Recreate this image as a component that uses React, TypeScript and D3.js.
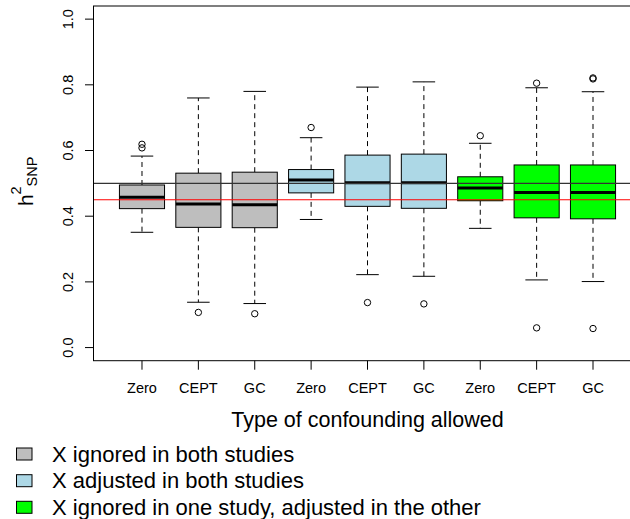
import React from "react";
import * as d3 from "d3";

const categories = ["Zero", "CEPT", "GC", "Zero", "CEPT", "GC", "Zero", "CEPT", "GC"];
const groupOfBox = [0, 0, 0, 1, 1, 1, 2, 2, 2];
const groupLabels = [
  "X ignored in both studies",
  "X adjusted in both studies",
  "X ignored in one study, adjusted in the other",
];
const groupColors = ["#BEBEBE", "#ADD8E6", "#00FF00"];

const lowerWhisker = [0.351, 0.138, 0.134, 0.39, 0.222, 0.217, 0.363, 0.206, 0.201];
const q1 = [0.423, 0.366, 0.365, 0.471, 0.43, 0.424, 0.447, 0.395, 0.392];
const median = [0.458, 0.437, 0.435, 0.51, 0.502, 0.502, 0.486, 0.472, 0.472];
const q3 = [0.495, 0.531, 0.534, 0.542, 0.586, 0.589, 0.52, 0.556, 0.556];
const upperWhisker = [0.583, 0.76, 0.78, 0.639, 0.793, 0.809, 0.622, 0.791, 0.779];
const outliers = [
  [0.608, 0.619],
  [0.107],
  [0.103],
  [0.67],
  [0.137],
  [0.133],
  [0.645],
  [0.805, 0.06],
  [0.818, 0.821, 0.058],
];

const yTicks = [0, 0.2, 0.4, 0.6, 0.8, 1.0];
const refLines = [
  { value: 0.5, color: "#333333" },
  { value: 0.45, color: "#FF0000" },
];

const xTitle = "Type of confounding allowed";
const FONT = "'Liberation Sans', Arial, Helvetica, sans-serif";

export default function App() {
  const W = 630;
  const H = 519;
  const x = d3.scaleLinear().domain([0.14, 9.86]).range([93.5, 641.5]);
  const y = d3.scaleLinear().domain([-0.04, 1.04]).range([360.7, 6]);
  const left = x.range()[0];
  const right = x.range()[1];
  const top = y.range()[1];
  const bottom = y.range()[0];
  const fmt = d3.format(".1f");
  const halfW = x(1.4) - x(1);
  const staple = halfW / 2;

  const legendRows = [454, 480.7, 507.3];

  return (
    <svg
      width={W}
      height={H}
      style={{ position: "absolute", left: 0, top: 0, background: "#fff" }}
      fontFamily={FONT}
    >
      <defs>
        <clipPath id="plotclip">
          <rect x={left} y={top} width={right - left} height={bottom - top} />
        </clipPath>
      </defs>
      <rect x={0} y={0} width={W} height={H} fill="#fff" />

      {/* boxes */}
      {categories.map((c, i) => {
        const cx = x(i + 1);
        const color = groupColors[groupOfBox[i]];
        return (
          <g key={"b" + i}>
            <line x1={cx} x2={cx} y1={y(q3[i])} y2={y(upperWhisker[i])} stroke="#000" strokeDasharray="5,4" />
            <line x1={cx} x2={cx} y1={y(q1[i])} y2={y(lowerWhisker[i])} stroke="#000" strokeDasharray="5,4" />
            <line x1={cx - staple} x2={cx + staple} y1={y(upperWhisker[i])} y2={y(upperWhisker[i])} stroke="#000" />
            <line x1={cx - staple} x2={cx + staple} y1={y(lowerWhisker[i])} y2={y(lowerWhisker[i])} stroke="#000" />
            <rect
              x={cx - halfW}
              y={y(q3[i])}
              width={2 * halfW}
              height={y(q1[i]) - y(q3[i])}
              fill={color}
              stroke="#000"
              strokeWidth={1}
            />
            <line x1={cx - halfW} x2={cx + halfW} y1={y(median[i])} y2={y(median[i])} stroke="#000" strokeWidth={3} />
            {outliers[i].map((v, j) => (
              <circle key={j} cx={cx} cy={y(v)} r={3.2} fill="none" stroke="#000" strokeWidth={1} />
            ))}
          </g>
        );
      })}

      {/* reference lines */}
      <g clipPath="url(#plotclip)">
        {refLines.map((r, i) => (
          <line key={i} x1={left} x2={right} y1={y(r.value)} y2={y(r.value)} stroke={r.color} strokeWidth={1.2} />
        ))}
      </g>

      {/* frame */}
      <rect x={left} y={top} width={right - left} height={bottom - top} fill="none" stroke="#000" strokeWidth={1} />

      {/* y axis */}
      <line x1={left} x2={left} y1={y(0)} y2={y(1)} stroke="#000" />
      {yTicks.map((t) => (
        <g key={"yt" + t}>
          <line x1={left - 8.5} x2={left} y1={y(t)} y2={y(t)} stroke="#000" />
          <text
            x={73.5}
            y={y(t)}
            transform={`rotate(-90, 73.5, ${y(t)})`}
            textAnchor="middle"
            fontSize={14.5}
            fill="#000"
          >
            {fmt(t)}
          </text>
        </g>
      ))}

      {/* x axis */}
      {categories.map((c, i) => (
        <g key={"xt" + i}>
          <line x1={x(i + 1)} x2={x(i + 1)} y1={bottom} y2={bottom + 9} stroke="#000" />
          <text x={x(i + 1)} y={393} textAnchor="middle" fontSize={14.5} fill="#000">
            {c}
          </text>
        </g>
      ))}
      <text x={(left + right) / 2} y={427} textAnchor="middle" fontSize={21.5} fill="#000">
        {xTitle}
      </text>

      {/* y label */}
      <g transform="translate(33, 0) rotate(-90)">
        <text x={-206} y={0} fontSize={21} fill="#000">h</text>
        <text x={-194.5} y={-12} fontSize={14.5} fill="#000">2</text>
        <text x={-186.5} y={4} fontSize={14.5} fill="#000">SNP</text>
      </g>

      {/* legend */}
      {groupLabels.map((g, i) => (
        <g key={"lg" + i}>
          <rect x={16.5} y={legendRows[i] - 6} width={15.5} height={12} fill={groupColors[i]} stroke="#000" />
          <text x={52} y={legendRows[i] + 7.5} fontSize={22} fill="#000">
            {g}
          </text>
        </g>
      ))}
    </svg>
  );
}
